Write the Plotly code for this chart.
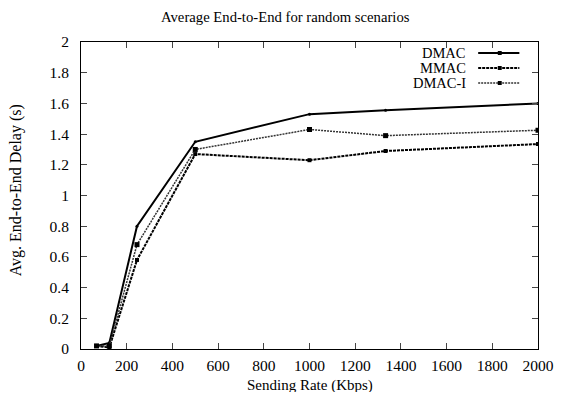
import plotly.graph_objects as go

rates = [68, 124, 245, 500, 1000, 1333, 2000]
dmac = [0.02, 0.04, 0.80, 1.35, 1.53, 1.555, 1.60]
mmac = [0.02, 0.01, 0.58, 1.27, 1.23, 1.29, 1.335]
dmac_i = [0.02, 0.02, 0.68, 1.30, 1.43, 1.39, 1.425]

series = [
    ("DMAC", dmac, dict(color="black", width=2, dash="solid"), dict(symbol="circle", size=3)),
    ("MMAC", mmac, dict(color="black", width=2, dash="3px,1px"), dict(symbol="square", size=4)),
    ("DMAC-I", dmac_i, dict(color="#333333", width=1.5, dash="2px,1px"), dict(symbol="square", size=5)),
]

fig = go.Figure()
for name, ys, line, marker in series:
    fig.add_trace(go.Scatter(x=rates, y=ys, mode="lines+markers", name=name,
                             line=line, marker=dict(color="black", **marker),
                             showlegend=False))

family = "Liberation Serif"
W, H = 566, 396
PL, PR, PT, PB = 81, 547, 42, 349  # plot area in window pixels


def px(x):
    return (x - PL) / (PR - PL)


def py(y):
    return (PB - y) / (PB - PT)


# manual legend (gnuplot style: text, then sample to its right)
legend_y = [53, 68, 83]
for (name, ys, line, marker), ly in zip(series, legend_y):
    fig.add_annotation(xref="paper", yref="paper", x=px(475), y=py(ly),
                       text=name, showarrow=False, xanchor="right", yanchor="middle",
                       font=dict(family=family, size=14.5, color="black"), height=12,
                       borderpad=0)
    fig.add_shape(type="line", xref="paper", yref="paper", x0=px(486), x1=px(528),
                  y0=py(ly), y1=py(ly), line=line)
    fig.add_shape(type="rect", xref="paper", yref="paper",
                  x0=px(506), x1=px(510), y0=py(ly + 2), y1=py(ly - 2),
                  fillcolor="black", line=dict(width=0))

# title and axis titles
fig.add_annotation(xref="paper", yref="paper", x=px(290), y=py(17),
                   text="Average End-to-End for random scenarios", showarrow=False,
                   xanchor="center", yanchor="middle",
                   font=dict(family=family, size=14.7, color="black"))
fig.add_annotation(xref="paper", yref="paper", x=px(314), y=py(385),
                   text="Sending Rate (Kbps)", showarrow=False,
                   xanchor="center", yanchor="middle", height=14,
                   font=dict(family=family, size=15, color="black"))
fig.add_annotation(xref="paper", yref="paper", x=px(15), y=py(190),
                   text="Avg. End-to-End Delay (s)", showarrow=False, textangle=-90,
                   xanchor="center", yanchor="middle",
                   font=dict(family=family, size=16, color="black"))

tickfont = dict(family="Liberation Serif, Times New Roman, serif", size=15.5, color="black")
fig.update_layout(
    width=W, height=H,
    margin=dict(l=PL, r=W - PR, t=PT, b=H - PB),
    paper_bgcolor="white", plot_bgcolor="white",
    font=dict(family=family, size=15.5, color="black"),
)
fig.update_xaxes(range=[0, 2000], tick0=0, dtick=200, ticks="inside", ticklen=6,
                 showline=True, linecolor="black", linewidth=1, mirror="ticks",
                 showgrid=False, zeroline=False, ticklabelstandoff=2, tickfont=tickfont)
fig.update_yaxes(range=[0, 2], tick0=0, dtick=0.2, ticks="inside", ticklen=6,
                 showline=True, linecolor="black", linewidth=1, mirror="ticks",
                 showgrid=False, zeroline=False, tickformat="~g", ticklabelstandoff=8,
                 tickfont=tickfont)

fig.write_html(
    "out.html",
    config={"displayModeBar": False},
    post_script="document.body.style.margin='0';"
                "document.documentElement.style.overflow='hidden';"
                "document.body.style.overflow='hidden';",
)
